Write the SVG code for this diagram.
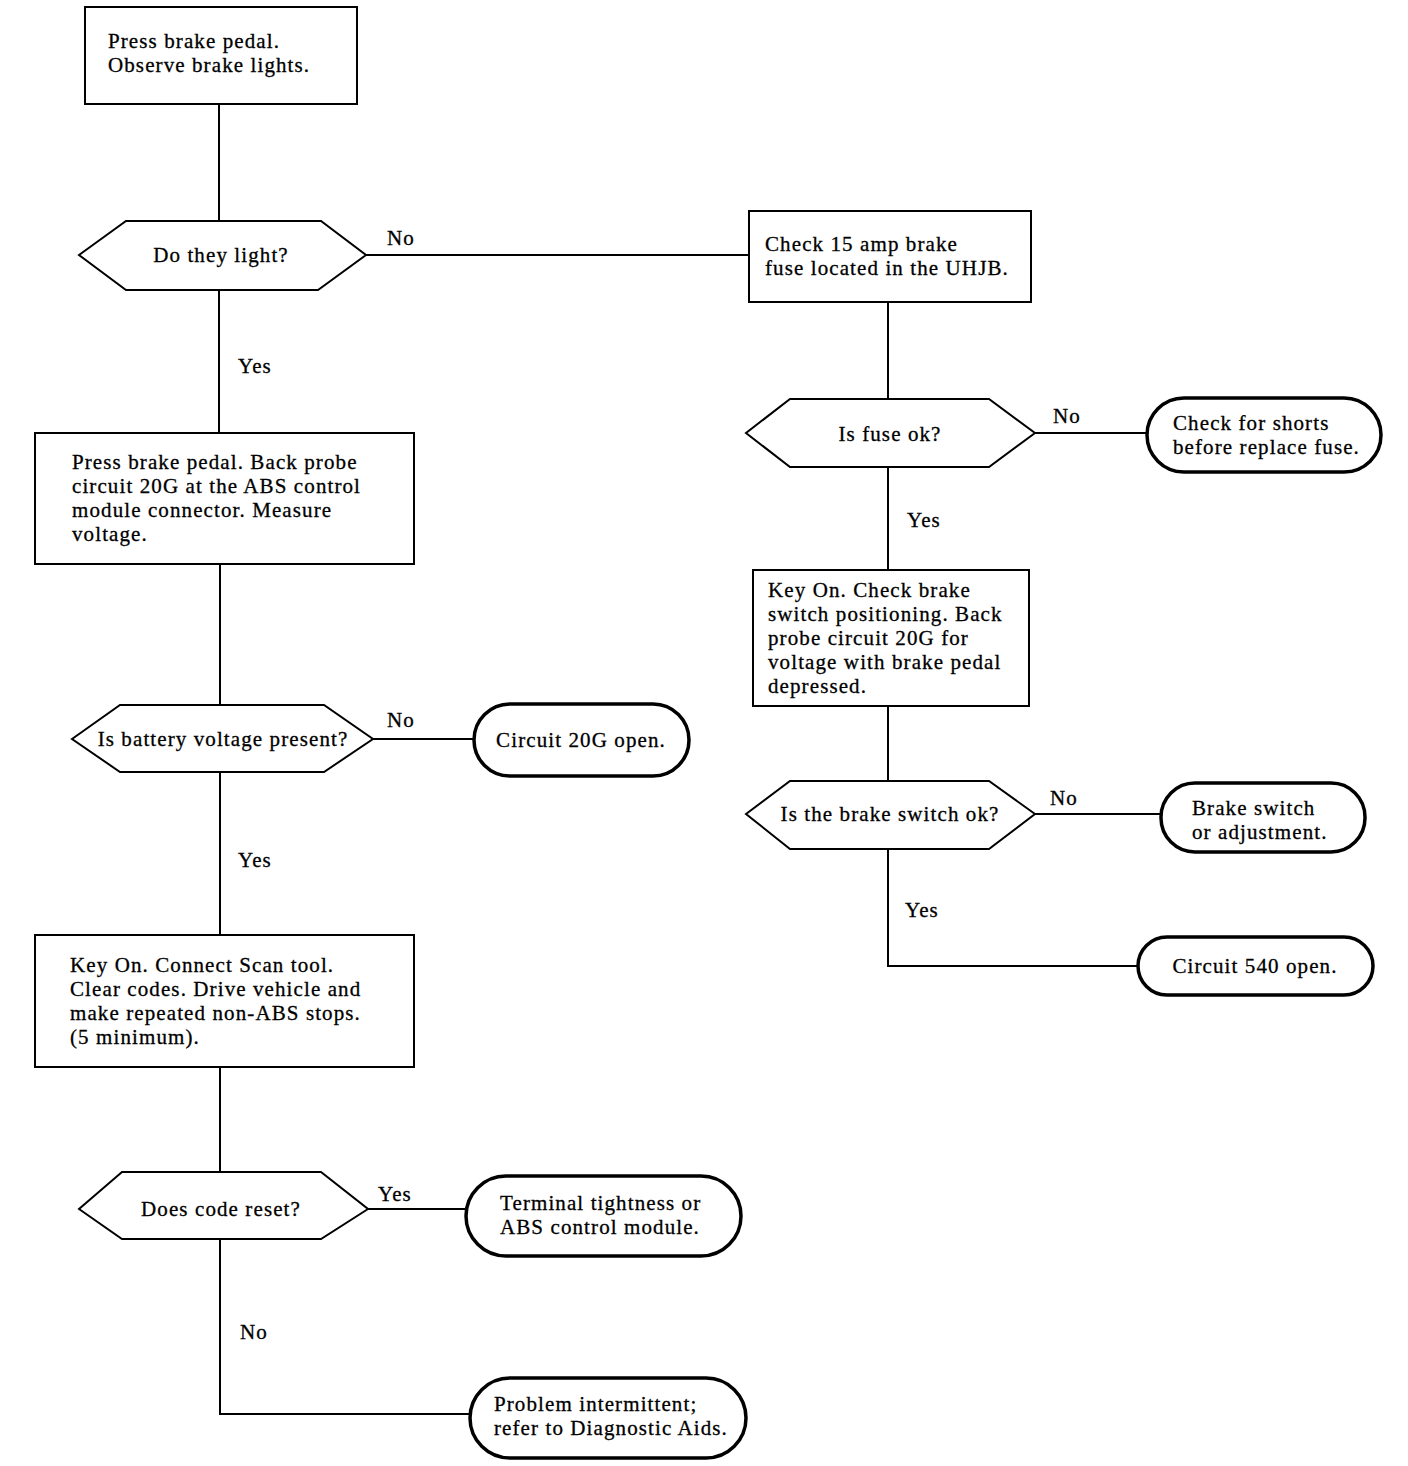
<svg xmlns="http://www.w3.org/2000/svg" width="1408" height="1466" viewBox="0 0 1408 1466">
<style>
  .bg { fill: #ffffff; }
  .box { fill: #ffffff; stroke: #000000; stroke-width: 2; }
  .dec { fill: #ffffff; stroke: #000000; stroke-width: 2; stroke-linejoin: miter; }
  .term { fill: #ffffff; stroke: #000000; stroke-width: 3.5; }
  .conn { fill: none; stroke: #000000; stroke-width: 2; }
  text { font-family: "Liberation Serif", "Times New Roman", serif; font-size: 21px; fill: #000000; letter-spacing: 1.1px; stroke: #000000; stroke-width: 0.3px; }
  .mid { text-anchor: middle; }
</style>
<rect class="bg" x="0" y="0" width="1408" height="1466"/>

<g id="connectors">
  <path class="conn" d="M219,104 V221"/>
  <path class="conn" d="M219,290 V433"/>
  <path class="conn" d="M366,255 H749"/>
  <path class="conn" d="M888,302 V399"/>
  <path class="conn" d="M1035,433 H1147"/>
  <path class="conn" d="M888,467 V570"/>
  <path class="conn" d="M888,706 V781"/>
  <path class="conn" d="M1035,814 H1161"/>
  <path class="conn" d="M888,849 V966 H1138"/>
  <path class="conn" d="M220,564 V705"/>
  <path class="conn" d="M373,739 H474"/>
  <path class="conn" d="M220,772 V935"/>
  <path class="conn" d="M220,1067 V1172"/>
  <path class="conn" d="M368,1209 H466"/>
  <path class="conn" d="M220,1239 V1414 H470"/>
  <text x="387" y="245">No</text>
  <text x="238" y="373">Yes</text>
  <text x="1053" y="423">No</text>
  <text x="907" y="527">Yes</text>
  <text x="1050" y="805">No</text>
  <text x="905" y="917">Yes</text>
  <text x="387" y="727">No</text>
  <text x="238" y="867">Yes</text>
  <text x="378" y="1201">Yes</text>
  <text x="240" y="1339">No</text>
</g>

<g id="n1">
  <rect class="box" x="85" y="7" width="272" height="97"/>
  <text x="108" y="48">Press brake pedal.</text>
  <text x="108" y="72">Observe brake lights.</text>
</g>

<g id="d1">
  <polygon class="dec" points="79,255 126,221 321,221 366,255 318,290 126,290"/>
  <text class="mid" x="221" y="262">Do they light?</text>
</g>

<g id="n2">
  <rect class="box" x="35" y="433" width="379" height="131"/>
  <text x="72" y="469">Press brake pedal. Back probe</text>
  <text x="72" y="493">circuit 20G at the ABS control</text>
  <text x="72" y="517">module connector. Measure</text>
  <text x="72" y="541">voltage.</text>
</g>

<g id="d3">
  <polygon class="dec" points="72,739 120,705 324,705 373,739 324,772 120,772"/>
  <text class="mid" x="223" y="746">Is battery voltage present?</text>
</g>

<g id="t1">
  <rect class="term" x="474" y="704" width="215" height="72" rx="36" ry="36"/>
  <text class="mid" x="581" y="747">Circuit 20G open.</text>
</g>

<g id="n4">
  <rect class="box" x="35" y="935" width="379" height="132"/>
  <text x="70" y="972">Key On. Connect Scan tool.</text>
  <text x="70" y="996">Clear codes. Drive vehicle and</text>
  <text x="70" y="1020">make repeated non-ABS stops.</text>
  <text x="70" y="1044">(5 minimum).</text>
</g>

<g id="d5">
  <polygon class="dec" points="79,1209 122,1172 321,1172 368,1209 321,1239 122,1239"/>
  <text class="mid" x="221" y="1216">Does code reset?</text>
</g>

<g id="t4">
  <rect class="term" x="466" y="1176" width="275" height="80" rx="40" ry="40"/>
  <text x="500" y="1210">Terminal tightness or</text>
  <text x="500" y="1234">ABS control module.</text>
</g>

<g id="t5">
  <rect class="term" x="470" y="1378" width="276" height="80" rx="40" ry="40"/>
  <text x="494" y="1411">Problem intermittent;</text>
  <text x="494" y="1435">refer to Diagnostic Aids.</text>
</g>

<g id="n3">
  <rect class="box" x="749" y="211" width="282" height="91"/>
  <text x="765" y="251">Check 15 amp brake</text>
  <text x="765" y="275">fuse located in the UHJB.</text>
</g>

<g id="d2">
  <polygon class="dec" points="746,433 790,399 989,399 1035,433 989,467 790,467"/>
  <text class="mid" x="890" y="441">Is fuse ok?</text>
</g>

<g id="t2">
  <rect class="term" x="1147" y="398" width="234" height="74" rx="37" ry="37"/>
  <text x="1173" y="430">Check for shorts</text>
  <text x="1173" y="454">before replace fuse.</text>
</g>

<g id="n5">
  <rect class="box" x="753" y="570" width="276" height="136"/>
  <text x="768" y="597">Key On. Check brake</text>
  <text x="768" y="621">switch positioning. Back</text>
  <text x="768" y="645">probe circuit 20G for</text>
  <text x="768" y="669">voltage with brake pedal</text>
  <text x="768" y="693">depressed.</text>
</g>

<g id="d4">
  <polygon class="dec" points="746,814 790,781 989,781 1035,814 989,849 790,849"/>
  <text class="mid" x="890" y="821">Is the brake switch ok?</text>
</g>

<g id="t3">
  <rect class="term" x="1161" y="783" width="204" height="69" rx="34" ry="34"/>
  <text x="1192" y="815">Brake switch</text>
  <text x="1192" y="839">or adjustment.</text>
</g>

<g id="t6">
  <rect class="term" x="1138" y="937" width="235" height="58" rx="29" ry="29"/>
  <text class="mid" x="1255" y="973">Circuit 540 open.</text>
</g>
</svg>
